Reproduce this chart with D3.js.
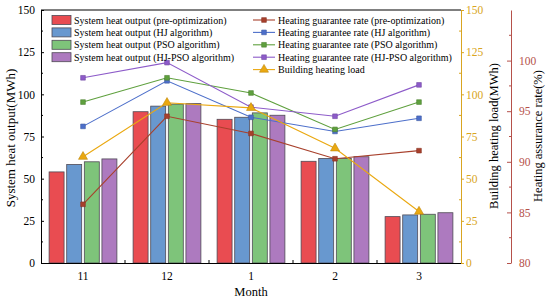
<!DOCTYPE html>
<html>
<head>
<meta charset="utf-8">
<script src="https://cdn.jsdelivr.net/npm/d3@7"></script>
<style>
  body { margin: 0; background: #fff; }
  svg text { font-family: "Liberation Serif", "Times New Roman", serif; }
</style>
</head>
<body>
<svg id="canvas"></svg>
<script>
// Months on the x axis.
var months = ['11', '12', '1', '2', '3'];

// System heat output bars (MWh).
var heatPre = [54, 89.7, 85.2, 60.3, 27.5];
var heatHJ = [58.4, 93, 86.4, 62, 28.5];
var heatPSO = [60, 94.2, 89, 62, 28.9];
var heatHJPSO = [61.7, 94.5, 87.6, 63, 29.8];

// Heating guarantee rate lines (%).
var ratePre = [85.8, 94.5, 92.8, 90.3, 91.1];
var rateHJ = [93.5, 98.0, 94.4, 93.0, 94.3];
var ratePSO = [95.9, 98.3, 96.8, 93.2, 95.9];
var rateHJPSO = [98.3, 99.8, 95.4, 94.5, 97.6];

// Building heating load (MWh).
var buildingLoad = [63, 95, 92, 68, 30.5];

// Tick values.
var heatTicks = [0, 25, 50, 75, 100, 125, 150];
var rateTicks = [80, 85, 90, 95, 100];

var barSeries = [
  {name: 'System heat output (pre-optimization)', values: heatPre, color: '#e94c51'},
  {name: 'System heat output (HJ algorithm)', values: heatHJ, color: '#6898cf'},
  {name: 'System heat output (PSO algorithm)', values: heatPSO, color: '#7ec47a'},
  {name: 'System heat output (HJ-PSO algorithm)', values: heatHJPSO, color: '#ad7abf'}
];

var lineSeries = [
  {name: 'Heating guarantee rate (pre-optimization)', values: ratePre, color: '#a8402c', axis: 'rate', marker: 'square'},
  {name: 'Heating guarantee rate (HJ algorithm)', values: rateHJ, color: '#4d6fca', axis: 'rate', marker: 'square'},
  {name: 'Heating guarantee rate (PSO algorithm)', values: ratePSO, color: '#5fa03e', axis: 'rate', marker: 'square'},
  {name: 'Heating guarantee rate (HJ-PSO algorithm)', values: rateHJPSO, color: '#8d5bc9', axis: 'rate', marker: 'square'},
  {name: 'Building heating load', values: buildingLoad, color: '#eaa810', axis: 'load', marker: 'triangle'}
];

// Canvas dimensions.
var canvasWidth = 550;
var canvasHeight = 301;

// Plot box.
var plotLeft = 41, plotRight = 461, plotTop = 10, plotBottom = 263;
var rateAxisX = 511;

var svg = d3.select('#canvas')
            .attr('width', canvasWidth)
            .attr('height', canvasHeight);

var translation = function(x, y) {
  return 'translate(' + x + ',' + y + ')';
};

// Scales.
var xScale = d3.scaleBand().domain(months).range([plotLeft, plotRight]).padding(0);
var xSub = d3.scaleBand().domain(d3.range(barSeries.length))
             .range([0, xScale.bandwidth()])
             .paddingInner(0.15).paddingOuter(0.46);
var yHeat = d3.scaleLinear().domain([0, 150]).range([plotBottom, plotTop]);
var yLoad = d3.scaleLinear().domain([0, 150]).range([plotBottom, plotTop]);
var yRate = d3.scaleLinear().domain([80, 105]).range([plotBottom, plotTop]);

// Bars.
barSeries.forEach(function(s, si) {
  svg.append('g').selectAll('rect')
     .data(s.values)
     .enter()
     .append('rect')
     .attr('x', function(d, i) { return xScale(months[i]) + xSub(si); })
     .attr('y', function(d) { return yHeat(d); })
     .attr('width', xSub.bandwidth())
     .attr('height', function(d) { return yHeat(0) - yHeat(d); })
     .attr('fill', s.color)
     .attr('stroke', '#4f4a55')
     .attr('stroke-width', 0.8);
});

// Lines.
var markerPath = function(type, size) {
  if (type === 'triangle') return d3.symbol().type(d3.symbolTriangle).size(size * 1.6)();
  return d3.symbol().type(d3.symbolSquare).size(size)();
};

lineSeries.forEach(function(s) {
  var yS = s.axis === 'rate' ? yRate : yLoad;
  var cx = function(d, i) { return xScale(months[i]) + xScale.bandwidth() / 2; };
  var line = d3.line().x(cx).y(function(d) { return yS(d); });
  svg.append('path')
     .datum(s.values)
     .attr('d', line)
     .attr('fill', 'none')
     .attr('stroke', s.color)
     .attr('stroke-width', 1.1);
  svg.append('g').selectAll('path')
     .data(s.values)
     .enter()
     .append('path')
     .attr('transform', function(d, i) { return translation(cx(d, i), yS(d)); })
     .attr('d', markerPath(s.marker, 22))
     .attr('fill', s.color)
     .attr('stroke', d3.color(s.color).darker(0.6))
     .attr('stroke-width', 0.6);
});

// Left axis.
var leftAxis = d3.axisLeft(yHeat).tickValues(heatTicks).tickSizeInner(-3).tickSizeOuter(0).tickPadding(6);
var gl = svg.append('g').attr('transform', translation(plotLeft, 0)).call(leftAxis);
gl.selectAll('line').attr('stroke', '#000');
gl.select('.domain').attr('stroke', '#000');
gl.selectAll('text').style('font-size', '11.5px').attr('fill', '#000');
d3.range(12.5, 150, 25).forEach(function(v) {
  svg.append('line').attr('x1', plotLeft).attr('x2', plotLeft + 2)
     .attr('y1', yHeat(v)).attr('y2', yHeat(v)).attr('stroke', '#000');
});

// Top frame.
svg.append('line').attr('x1', plotLeft).attr('x2', plotRight).attr('y1', plotTop).attr('y2', plotTop)
   .attr('stroke', '#000').attr('stroke-width', 1);

// Bottom axis: ticks on band edges, labels on centers.
var xAxis = d3.axisBottom(xScale).tickSize(0).tickPadding(9);
var gx = svg.append('g').attr('transform', translation(0, plotBottom)).call(xAxis);
gx.select('.domain').attr('stroke', '#000');
gx.selectAll('text').style('font-size', '11.5px').attr('fill', '#000');
months.slice(1).forEach(function(m) {
  svg.append('line').attr('x1', xScale(m)).attr('x2', xScale(m))
     .attr('y1', plotBottom).attr('y2', plotBottom - 3).attr('stroke', '#000');
});

// Right load axis (orange).
var loadColor = '#d9a521';
var loadAxis = d3.axisRight(yLoad).tickValues(heatTicks).tickSizeInner(3).tickSizeOuter(0).tickPadding(2);
var gr = svg.append('g').attr('transform', translation(plotRight, 0)).call(loadAxis);
gr.select('.domain').attr('stroke', loadColor);
gr.selectAll('line').attr('stroke', loadColor);
gr.selectAll('text').style('font-size', '11.5px').attr('fill', loadColor);
d3.range(12.5, 150, 25).forEach(function(v) {
  svg.append('line').attr('x1', plotRight - 2).attr('x2', plotRight)
     .attr('y1', yLoad(v)).attr('y2', yLoad(v)).attr('stroke', loadColor);
});

// Right rate axis (red-brown).
var rateColor = '#b5514a';
var rateAxis = d3.axisRight(yRate).tickValues(rateTicks).tickSizeInner(-4).tickSizeOuter(0).tickPadding(8);
var gq = svg.append('g').attr('transform', translation(rateAxisX, 0)).call(rateAxis);
gq.select('.domain').attr('stroke', rateColor);
gq.selectAll('line').attr('stroke', rateColor);
gq.selectAll('text').style('font-size', '11.5px').attr('fill', rateColor);
d3.range(82.5, 105, 5).forEach(function(v) {
  svg.append('line').attr('x1', rateAxisX - 2).attr('x2', rateAxisX)
     .attr('y1', yRate(v)).attr('y2', yRate(v)).attr('stroke', rateColor);
});

// Axis titles.
svg.append('text').attr('x', 251).attr('y', 296).attr('text-anchor', 'middle')
   .style('font-size', '12.5px').text('Month');
svg.append('text').attr('transform', translation(15, 138) + ' rotate(-90)')
   .attr('text-anchor', 'middle').style('font-size', '13px').text('System heat output(MWh)');
svg.append('text').attr('transform', translation(498, 136) + ' rotate(-90)')
   .attr('text-anchor', 'middle').style('font-size', '12.5px').text('Building heating load(MWh)');
svg.append('text').attr('transform', translation(542, 136) + ' rotate(-90)')
   .attr('text-anchor', 'middle').style('font-size', '12.5px').text('Heating assurance rate(%)');

// Legend.
var rowY = function(i) { return 20 + i * 12.4; };
var legendFont = '10px';
barSeries.forEach(function(s, i) {
  svg.append('rect').attr('x', 52).attr('y', rowY(i) - 4.5).attr('width', 19).attr('height', 9)
     .attr('fill', s.color).attr('stroke', '#4f4a55').attr('stroke-width', 0.8);
  svg.append('text').attr('x', 74).attr('y', rowY(i) + 3.5)
     .style('font-size', legendFont).text(s.name);
});
lineSeries.forEach(function(s, i) {
  svg.append('line').attr('x1', 253).attr('x2', 275).attr('y1', rowY(i)).attr('y2', rowY(i))
     .attr('stroke', s.color).attr('stroke-width', 1.1);
  svg.append('path').attr('transform', translation(264, rowY(i)))
     .attr('d', markerPath(s.marker, 22))
     .attr('fill', s.color).attr('stroke', d3.color(s.color).darker(0.6)).attr('stroke-width', 0.6);
  svg.append('text').attr('x', 278).attr('y', rowY(i) + 3.5)
     .style('font-size', legendFont).text(s.name);
});
</script>
</body>
</html>
